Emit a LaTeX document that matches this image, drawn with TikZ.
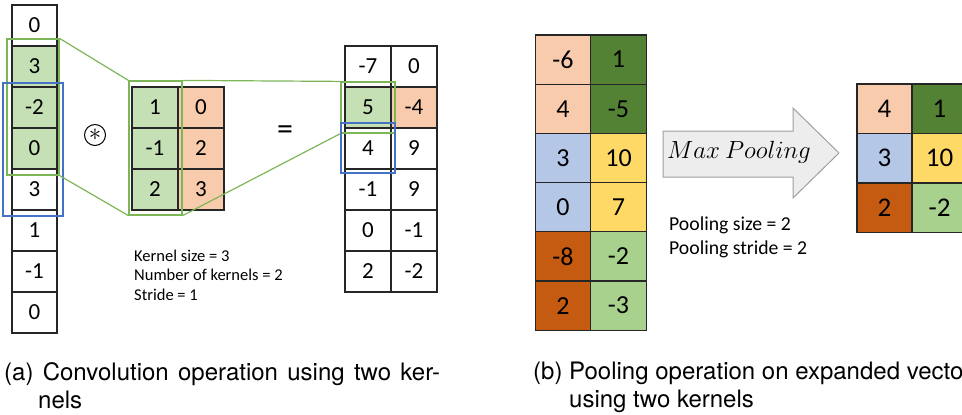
\documentclass[tikz,border=0pt]{standalone}
\usepackage{fontspec}
\setmainfont{Carlito}
\newfontfamily\capfont{TeX Gyre Heros}
\usetikzlibrary{positioning}
\definecolor{lgreen}{HTML}{C5E0B4}
\definecolor{peach}{HTML}{F8CBAD}
\definecolor{gline}{HTML}{7DB657}
\definecolor{bline}{HTML}{4472C4}
\definecolor{dkgreen}{HTML}{548235}
\definecolor{lblue}{HTML}{B4C7E7}
\definecolor{yell}{HTML}{FFD966}
\definecolor{dkorange}{HTML}{C55A11}
\definecolor{lgreentwo}{HTML}{A9D18E}
\definecolor{arrowfill}{HTML}{EDEDED}
\definecolor{arrowline}{HTML}{A0A0A0}
\definecolor{cellline}{HTML}{262626}
\begin{document}
\begin{tikzpicture}[x=1pt,y=-1pt,
  cellbase/.style={draw=cellline, line width=1.3pt, inner sep=0pt, text=black},
  lcell/.style={cellbase, minimum width=45pt, minimum height=41pt, font=\fontsize{23}{23}\selectfont},
  rcell/.style={cellbase, minimum width=55.5pt, minimum height=49.2pt, font=\fontsize{26}{26}\selectfont},
  pcell/.style={cellbase, minimum width=55pt, minimum height=49.5pt, font=\fontsize{27}{27}\selectfont},
  gbox/.style={draw=gline, line width=1.2pt, inner sep=0pt},
  bbox/.style={draw=bline, line width=1.2pt, inner sep=0pt},
  gconn/.style={draw=gline, line width=1.2pt},
  smalltext/.style={anchor=base west, inner sep=0pt},
  captext/.style={anchor=base west, inner sep=0pt, font=\capfont\fontsize{24}{28}\selectfont}
]
\useasboundingbox (0,0) rectangle (962,415);

% ---- input vector ----
\foreach \v/\f [count=\i] in {0/white,3/lgreen,-2/lgreen,0/lgreen,3/white,1/white,-1/white,0/white}
  \node[lcell, fill=\f] (in\i) at (34.5,{5+41*(\i-0.5)}) {\v};

% ---- kernels ----
\foreach \a/\b [count=\i] in {1/0,-1/2,2/3}{
  \node[lcell, minimum width=46pt, fill=lgreen] (ka\i) at (155,{87+41*(\i-0.5)}) {\a};
  \node[lcell, minimum width=46pt, fill=peach] (kb\i) at (201,{87+41*(\i-0.5)}) {\b};
}

% ---- output ----
\foreach \a/\fa/\b/\fb [count=\i] in {-7/white/0/white,5/lgreen/-4/peach,4/white/9/white,-1/white/9/white,0/white/-1/white,2/white/-2/white}{
  \node[lcell, minimum width=46pt, fill=\fa] (oa\i) at (368,{46+41*(\i-0.5)}) {\a};
  \node[lcell, minimum width=46pt, fill=\fb] (ob\i) at (414,{46+41*(\i-0.5)}) {\b};
}

% ---- highlight boxes ----
\node[gbox, minimum width=52pt, minimum height=136pt] (gin) at (33,107) {};
\node[bbox, minimum width=60pt, minimum height=133pt] (bin) at (33,149.5) {};
\node[gbox, minimum width=53pt, minimum height=134pt] (gk) at (155.5,148) {};
\node[gbox, minimum width=54pt, minimum height=51pt] (gout) at (368,107.5) {};
\node[bbox, minimum width=54pt, minimum height=50pt] (bout) at (368,148) {};

\draw[gconn] (gin.north east) -- (gk.north west);
\draw[gconn] (gin.south east) -- (gk.south west);
\draw[gconn] (gk.north east) -- (gout.north west);
\draw[gconn] (gk.south east) -- (gout.south west);

% ---- operators ----
\node[draw=black, circle, line width=1pt, minimum size=21pt, inner sep=0pt, font=\fontsize{26}{26}\selectfont] (conv) at (95,135) {$\ast$};
\node[inner sep=0pt, font=\fontsize{32}{32}\selectfont] (eq) at (285,133) {=};

\node[smalltext, font=\fontsize{16.5}{19.5}\selectfont] (kt1) at (134,261) {Kernel size = 3};
\node[smalltext, font=\fontsize{16.5}{19.5}\selectfont] (kt2) at (134,280.5) {Number of kernels = 2};
\node[smalltext, font=\fontsize{16.5}{19.5}\selectfont] (kt3) at (134,300) {Stride = 1};

% ---- pooling input ----
\foreach \a/\fa/\b/\fb [count=\i] in {-6/peach/1/dkgreen,4/peach/-5/dkgreen,3/lblue/10/yell,0/lblue/7/yell,-8/dkorange/-2/lgreentwo,2/dkorange/-3/lgreentwo}{
  \node[rcell, fill=\fa] (pa\i) at (563,{35+49.2*(\i-0.5)}) {\a};
  \node[rcell, fill=\fb] (pb\i) at (618.5,{35+49.2*(\i-0.5)}) {\b};
}

% ---- arrow ----
\draw[draw=arrowline, fill=arrowfill, line width=1pt] (663,131) -- (793,131) -- (793,108) -- (839,153) -- (793,198) -- (793,177) -- (663,177) -- cycle;
\node[inner sep=0pt, font=\fontsize{23}{23}\selectfont] (mp) at (739,152) {$Max\ Pooling$};

\node[smalltext, font=\fontsize{19.7}{23}\selectfont] (pt1) at (669,230) {Pooling size = 2};
\node[smalltext, font=\fontsize{19.7}{23}\selectfont] (pt2) at (669,254) {Pooling stride = 2};

% ---- pooled output ----
\foreach \a/\fa/\b/\fb [count=\i] in {4/peach/1/dkgreen,3/lblue/10/yell,2/dkorange/-2/lgreentwo}{
  \node[pcell, fill=\fa] (qa\i) at (884.5,{84+49.5*(\i-0.5)}) {\a};
  \node[pcell, fill=\fb] (qb\i) at (939.5,{84+49.5*(\i-0.5)}) {\b};
}

% ---- captions ----
\node[captext] (capa1) at (4,380) {\makebox[436pt][s]{(a) Convolution operation using two ker-}};
\node[captext] (capa2) at (38,408) {nels};
\node[captext] (capb1) at (533,379) {(b) Pooling operation on expanded vector};
\node[captext] (capb2) at (569,407) {using two kernels};
\end{tikzpicture}
\end{document}
